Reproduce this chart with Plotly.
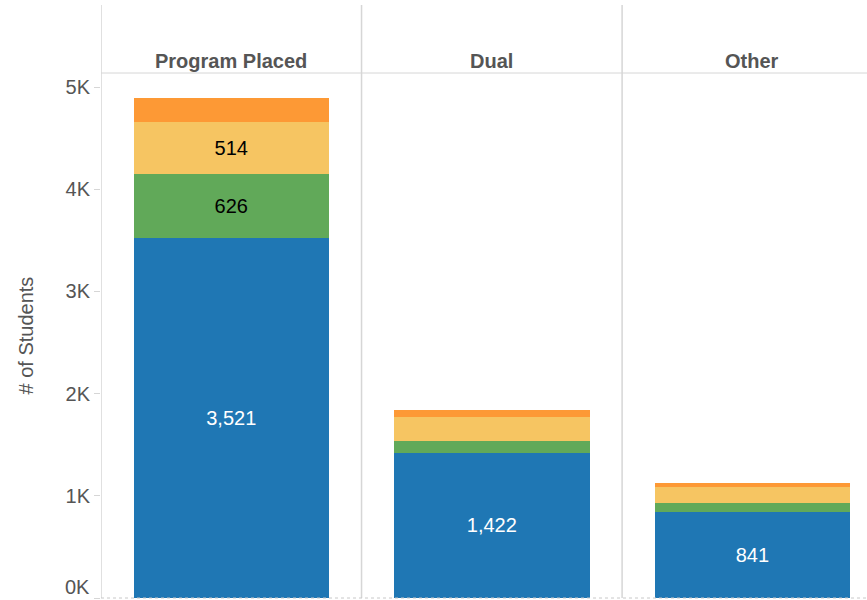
import plotly.graph_objects as go

categories = ["Program Placed", "Dual", "Other"]
segment_names = ["Group 1", "Group 2", "Group 3", "Group 4"]
blue_values = [3521, 1422, 841]
green_values = [626, 117, 85]
yellow_values = [514, 235, 157]
orange_values = [228, 68, 39]
tick_values = [0, 1000, 2000, 3000, 4000, 5000]
tick_labels = ["0K", "1K", "2K", "3K", "4K", "5K"]

# which segments get a label in the picture
blue_text = ["3,521", "1,422", "841"]
green_text = ["626", "", ""]
yellow_text = ["514", "", ""]
orange_text = ["", "", ""]

colors = ["#1f77b4", "#61a959", "#f6c562", "#fd9935"]
text_colors = ["white", "black", "black", "black"]

font_family = "Liberation Sans, Arial, sans-serif"
grey = "#555555"
line_grey = "#d6d6d6"

fig = go.Figure()
x_pos = list(range(len(categories)))
series = [blue_values, green_values, yellow_values, orange_values]
texts = [blue_text, green_text, yellow_text, orange_text]
for i in range(4):
    fig.add_trace(go.Bar(
        x=x_pos,
        y=series[i],
        name=segment_names[i],
        marker_color=colors[i],
        marker_line_width=0,
        width=0.75,
        text=texts[i],
        textposition="inside",
        insidetextanchor="middle",
        textangle=0,
        textfont=dict(color=text_colors[i], size=20, family=font_family),
        hovertemplate="%{y:,}<extra>" + segment_names[i] + "</extra>",
        showlegend=False,
    ))

plot_top = (598 - 73) / 593

# the bottom label sits above its tick, so it is drawn separately
axis_ticktext = [""] + tick_labels[1:]

fig.update_layout(
    barmode="stack",
    width=867,
    height=600,
    margin=dict(l=101, r=0, t=5, b=2),
    plot_bgcolor="white",
    paper_bgcolor="white",
    font=dict(family=font_family, color=grey),
    xaxis=dict(
        range=[-0.5, 2.44],
        showticklabels=False,
        showgrid=False,
        zeroline=False,
        ticks="",
    ),
    yaxis=dict(
        domain=[0, plot_top],
        range=[0, 5137],
        tickvals=tick_values,
        ticktext=axis_ticktext,
        tickfont=dict(size=20, color=grey),
        ticks="outside",
        ticklen=6,
        tickcolor=line_grey,
        showgrid=False,
        zeroline=False,
        showline=False,
    ),
)

fig.add_annotation(x=0, xref="paper", xanchor="right", xshift=-9, y=0, yref="y", yanchor="bottom",
                   yshift=-2, text=tick_labels[0], showarrow=False,
                   font=dict(size=20, color=grey, family=font_family))
fig.add_annotation(x=(25 - 101) / 766, xref="paper", xanchor="center", y=plot_top / 2, yref="paper",
                   yanchor="middle", text="# of Students", textangle=-90, showarrow=False,
                   font=dict(size=20, color=grey, family=font_family))

# panel divider lines and header line
for xv in [-0.5, 0.5, 1.5]:
    fig.add_shape(type="line", xref="x", yref="paper", x0=xv, x1=xv, y0=0, y1=1,
                  line=dict(color=line_grey, width=1.5))
fig.add_shape(type="line", xref="paper", yref="paper", x0=0, x1=1, y0=plot_top, y1=plot_top,
              line=dict(color=line_grey, width=1))
fig.add_shape(type="line", xref="paper", yref="paper", x0=0, x1=1, y0=0, y1=0,
              line=dict(color="#c8c8c8", width=1, dash="dot"))

# panel headers
for i, cat in enumerate(categories):
    fig.add_annotation(x=i, xref="x", y=(598 - 61) / 593, yref="paper", text="<b>" + cat + "</b>",
                       showarrow=False, font=dict(size=20, color=grey, family=font_family),
                       yanchor="middle")

fig.write_html("out.html", config={"displayModeBar": False},
               post_script="document.body.style.margin='0';")
